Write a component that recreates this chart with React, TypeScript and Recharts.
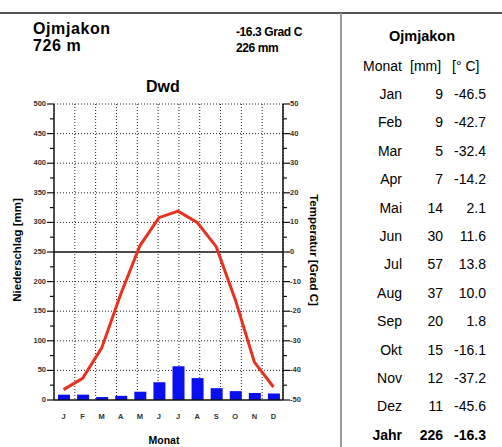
import { ComposedChart, Bar, Line, XAxis, YAxis, CartesianGrid, ReferenceLine } from "recharts";

const STATION = "Ojmjakon";
const ELEVATION = "726 m";
const CLIMATE_CLASS = "Dwd";
const MONTH_LETTERS = ["J", "F", "M", "A", "M", "J", "J", "A", "S", "O", "N", "D"];
const MONTH_NAMES = ["Jan", "Feb", "Mar", "Apr", "Mai", "Jun", "Jul", "Aug", "Sep", "Okt", "Nov", "Dez"];
const PRECIP_MM = [9, 9, 5, 7, 14, 30, 57, 37, 20, 15, 12, 11];
const TEMP_C = [-46.5, -42.7, -32.4, -14.2, 2.1, 11.6, 13.8, 10.0, 1.8, -16.1, -37.2, -45.6];
const YEAR_MM = 226;
const YEAR_C = -16.3;

const MM_TICKS = [0, 25, 50, 75, 100, 125, 150, 175, 200, 225, 250, 275, 300, 325, 350, 375, 400, 425, 450, 475, 500];
const TEMP_TICKS = [-50, -45, -40, -35, -30, -25, -20, -15, -10, -5, 0, 5, 10, 15, 20, 25, 30, 35, 40, 45, 50];
const GRID_MM = [50, 100, 150, 200, 300, 350, 400, 450, 500];
const MONTH_EDGES = [1, 2, 3, 4, 5, 6, 7, 8, 9, 10, 11];

const FONT = "'Liberation Sans', Arial, sans-serif";

const data = MONTH_LETTERS.map((m, i) => ({ i, m, mm: PRECIP_MM[i], t: TEMP_C[i] }));

function MmTick(props: any) {
  const { x, y, payload } = props;
  const major = payload.value % 50 === 0;
  return (
    <g>
      <line x1={x - (major ? 7 : 4)} x2={x} y1={y} y2={y} stroke="#111" strokeWidth={1.2} />
      {major && (
        <text x={x - 8} y={y} textAnchor="end" dominantBaseline="middle" fontSize={7.5} fontWeight="bold" fill="#333" fontFamily={FONT}>
          {payload.value}
        </text>
      )}
    </g>
  );
}

function TempTick(props: any) {
  const { x, y, payload } = props;
  const major = payload.value % 10 === 0;
  return (
    <g>
      <line x1={x} x2={x + (major ? 7 : 4)} y1={y} y2={y} stroke="#111" strokeWidth={1.2} />
      {major && (
        <text x={x + 7} y={y} textAnchor="start" dominantBaseline="middle" fontSize={7.5} fontWeight="bold" fill="#333" fontFamily={FONT}>
          {payload.value}
        </text>
      )}
    </g>
  );
}

function MonthTick(props: any) {
  const { x, y, payload } = props;
  return (
    <text x={x} y={y + 17} textAnchor="middle" dominantBaseline="middle" fontSize={7.5} fontWeight="bold" fill="#333" fontFamily={FONT}>
      {MONTH_LETTERS[payload.value]}
    </text>
  );
}

const abs = (left: number, top: number, extra: any = {}) => ({
  position: "absolute" as const,
  left,
  top,
  whiteSpace: "nowrap" as const,
  lineHeight: 1,
  ...extra,
});

export default function App() {
  const rows = MONTH_NAMES.map((n, i) => ({ n, mm: String(PRECIP_MM[i]), t: TEMP_C[i].toFixed(1), bold: false }));
  rows.push({ n: "Jahr", mm: String(YEAR_MM), t: YEAR_C.toFixed(1), bold: true });

  return (
    <div style={{ position: "fixed", left: 0, top: 0, width: 502, height: 447, background: "#fff", fontFamily: FONT, overflow: "hidden" }}>
      <div style={{ position: "absolute", left: 0, top: 12, width: 502, height: 2, background: "#555" }} />
      <div style={{ position: "absolute", left: 340, top: 13, width: 2, height: 434, background: "#999" }} />

      <div style={{ position: "absolute", left: 0, top: 0 }}>
        <ComposedChart width={340} height={447} data={data} margin={{ top: 104, right: 27, bottom: 17, left: 24 }}>
          <XAxis xAxisId="grid" orientation="top" height={0} type="number" domain={[0, 12]} ticks={MONTH_EDGES} hide />
          <CartesianGrid
            xAxisId="grid"
            yAxisId="p"
            stroke="#222"
            strokeDasharray="1 2"
            horizontalValues={GRID_MM}
            verticalValues={MONTH_EDGES}
          />
          <XAxis
            xAxisId="m"
            dataKey="i"
            height={30}
            tickSize={0}
            tickMargin={0}
            tickLine={false}
            interval={0}
            axisLine={{ stroke: "#111", strokeWidth: 1.5 }}
            tick={<MonthTick />}
          />
          <YAxis
            yAxisId="p"
            orientation="left"
            width={30}
            domain={[0, 500]}
            ticks={MM_TICKS}
            interval={0}
            tickSize={0}
            tickMargin={0}
            tickLine={false}
            axisLine={{ stroke: "#111", strokeWidth: 1.5 }}
            tick={<MmTick />}
          />
          <YAxis
            yAxisId="t"
            orientation="right"
            width={30}
            domain={[-50, 50]}
            ticks={TEMP_TICKS}
            interval={0}
            tickSize={0}
            tickMargin={0}
            tickLine={false}
            axisLine={{ stroke: "#111", strokeWidth: 1.5 }}
            tick={<TempTick />}
          />
          <ReferenceLine xAxisId="m" yAxisId="p" y={250} stroke="#111" strokeWidth={1.3} />
          <Bar xAxisId="m" yAxisId="p" dataKey="mm" fill="#0a0ff0" barSize={12} isAnimationActive={false} />
          <Line
            xAxisId="m"
            yAxisId="t"
            dataKey="t"
            type="linear"
            stroke="#e8311f"
            strokeWidth={3}
            dot={false}
            isAnimationActive={false}
          />
        </ComposedChart>
      </div>

      <div style={abs(33, 21, { fontSize: 16, fontWeight: "bold", letterSpacing: 0.6 })}>{STATION}</div>
      <div style={abs(33, 38, { fontSize: 16, fontWeight: "bold", letterSpacing: 0.6 })}>{ELEVATION}</div>
      <div style={abs(236, 26, { fontSize: 12, fontWeight: "bold", letterSpacing: -0.4 })}>{YEAR_C.toFixed(1)} Grad C</div>
      <div style={abs(236, 42, { fontSize: 12, fontWeight: "bold", letterSpacing: -0.4 })}>{YEAR_MM} mm</div>
      <div style={abs(146, 79, { fontSize: 16, fontWeight: "bold" })}>{CLIMATE_CLASS}</div>
      <div style={abs(139, 435, { fontSize: 10.5, fontWeight: "bold", width: 50, textAlign: "center" })}>Monat</div>

      <div style={abs(18, 250, { fontSize: 11.5, fontWeight: "bold", transform: "translate(-50%, -50%) rotate(-90deg)" })}>
        Niederschlag [mm]
      </div>
      <div style={abs(313, 250, { fontSize: 11.5, fontWeight: "bold", transform: "translate(-50%, -50%) rotate(90deg)" })}>
        Temperatur [Grad C]
      </div>

      <div style={abs(342, 29, { width: 160, textAlign: "center", fontSize: 14.5, fontWeight: "bold" })}>{STATION}</div>
      <div style={abs(300, 59, { width: 102, textAlign: "right", fontSize: 14 })}>Monat</div>
      <div style={abs(410, 59, { fontSize: 14 })}>[mm]</div>
      <div style={abs(452, 59, { fontSize: 14 })}>[° C]</div>

      {rows.map((r, k) => {
        const top = 87 + k * 28.4;
        const fw = r.bold ? "bold" : "normal";
        return (
          <div key={r.n}>
            <div style={abs(300, top, { width: 102, textAlign: "right", fontSize: 14, fontWeight: fw })}>{r.n}</div>
            <div style={abs(400, top, { width: 43, textAlign: "right", fontSize: 14, fontWeight: fw })}>{r.mm}</div>
            <div style={abs(440, top, { width: 46, textAlign: "right", fontSize: 14, fontWeight: fw })}>{r.t}</div>
          </div>
        );
      })}
    </div>
  );
}
